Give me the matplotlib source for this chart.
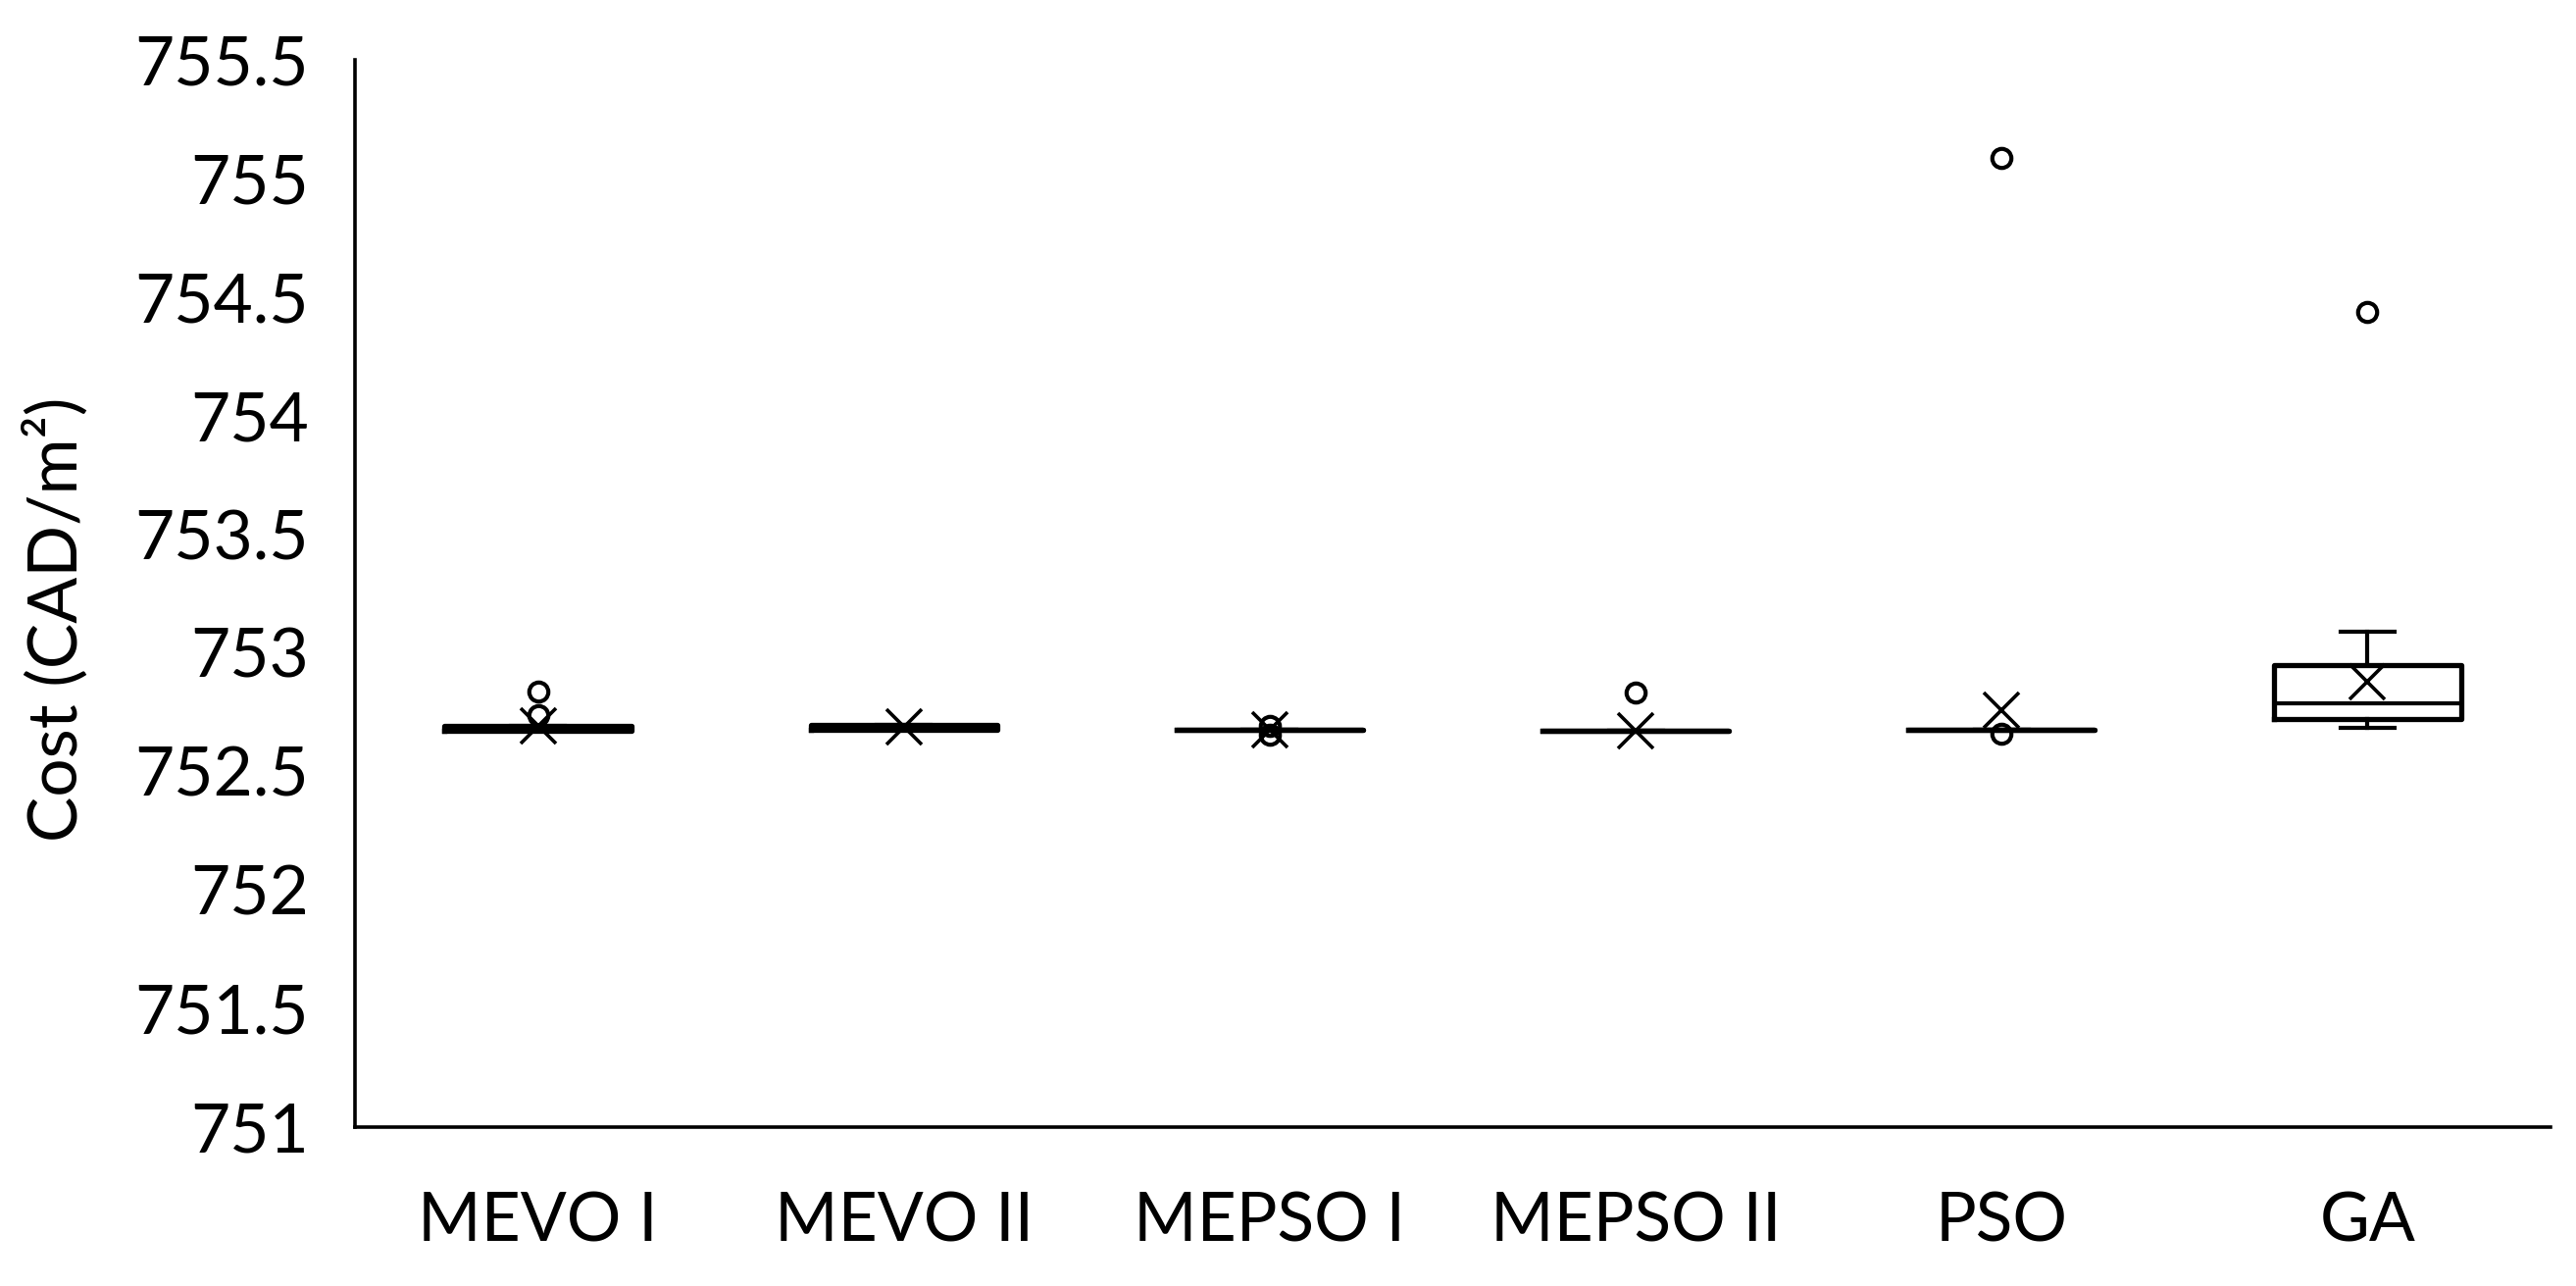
import matplotlib.pyplot as plt

# --- fonts: Calibri-like look ---
plt.rcParams['font.family'] = ['Lato', 'DejaVu Sans']

# --- data ---
categories = ['MEVO I', 'MEVO II', 'MEPSO I', 'MEPSO II', 'PSO', 'GA']
q1 = [752.670, 752.677, 752.674, 752.672, 752.674, 752.719]
medians = [752.680, 752.687, 752.674, 752.672, 752.674, 752.788]
q3 = [752.690, 752.697, 752.674, 752.672, 752.674, 752.949]
whisker_low = [752.670, 752.677, 752.674, 752.672, 752.674, 752.684]
whisker_high = [752.690, 752.697, 752.674, 752.672, 752.674, 753.087]
means = [752.691, 752.687, 752.675, 752.672, 752.758, 752.878]
outliers = [
    [752.836, 752.737],
    [],
    [752.690, 752.655],
    [752.832],
    [755.086, 752.658],
    [754.437],
]
y_ticks = [751, 751.5, 752, 752.5, 753, 753.5, 754, 754.5, 755, 755.5]

# bxp wants a list of stat dicts
stats = []
for i, name in enumerate(categories):
    stats.append({
        'label': name,
        'q1': q1[i], 'med': medians[i], 'q3': q3[i],
        'whislo': whisker_low[i], 'whishi': whisker_high[i],
        'mean': means[i], 'fliers': outliers[i],
    })

fig = plt.figure(figsize=(26.27, 13.11), dpi=100)
ax = fig.add_axes([362 / 2627, 1 - 1149 / 1311, (2601 - 362) / 2627, (1149 - 61) / 1311])

positions = list(range(1, len(categories) + 1))
ax.bxp(stats, positions=positions, widths=0.51, capwidths=0.147,
       showmeans=True, patch_artist=False,
       boxprops=dict(color='black', linewidth=3.8),
       medianprops=dict(color='black', linewidth=3.0),
       whiskerprops=dict(color='black', linewidth=3.0),
       capprops=dict(color='black', linewidth=3.0),
       meanprops=dict(marker='x', markersize=26, markeredgewidth=2.6,
                      markeredgecolor='black', linestyle='none'),
       flierprops=dict(marker='o', markersize=14, markeredgewidth=3,
                       markerfacecolor='none', markeredgecolor='black'))

ax.set_xlim(0.5, len(categories) + 0.5)
ax.set_ylim(751, 755.5)
ax.set_yticks(y_ticks)
ax.set_yticklabels([f'{v:g}' for v in y_ticks])
ax.set_xticks(positions)
ax.set_xticklabels(categories)
ax.tick_params(axis='both', length=0, labelsize=50)
ax.tick_params(axis='y', pad=34)
ax.tick_params(axis='x', pad=47)

for side in ['top', 'right']:
    ax.spines[side].set_visible(False)
for side in ['left', 'bottom']:
    ax.spines[side].set_linewidth(2.6)
    ax.spines[side].set_color('black')

fig.text(57 / 2627, 1 - 631 / 1311, 'Cost (CAD/m²)', rotation=90,
         ha='center', va='center', fontsize=50)

fig.savefig('out.png', dpi=100, facecolor='white')
